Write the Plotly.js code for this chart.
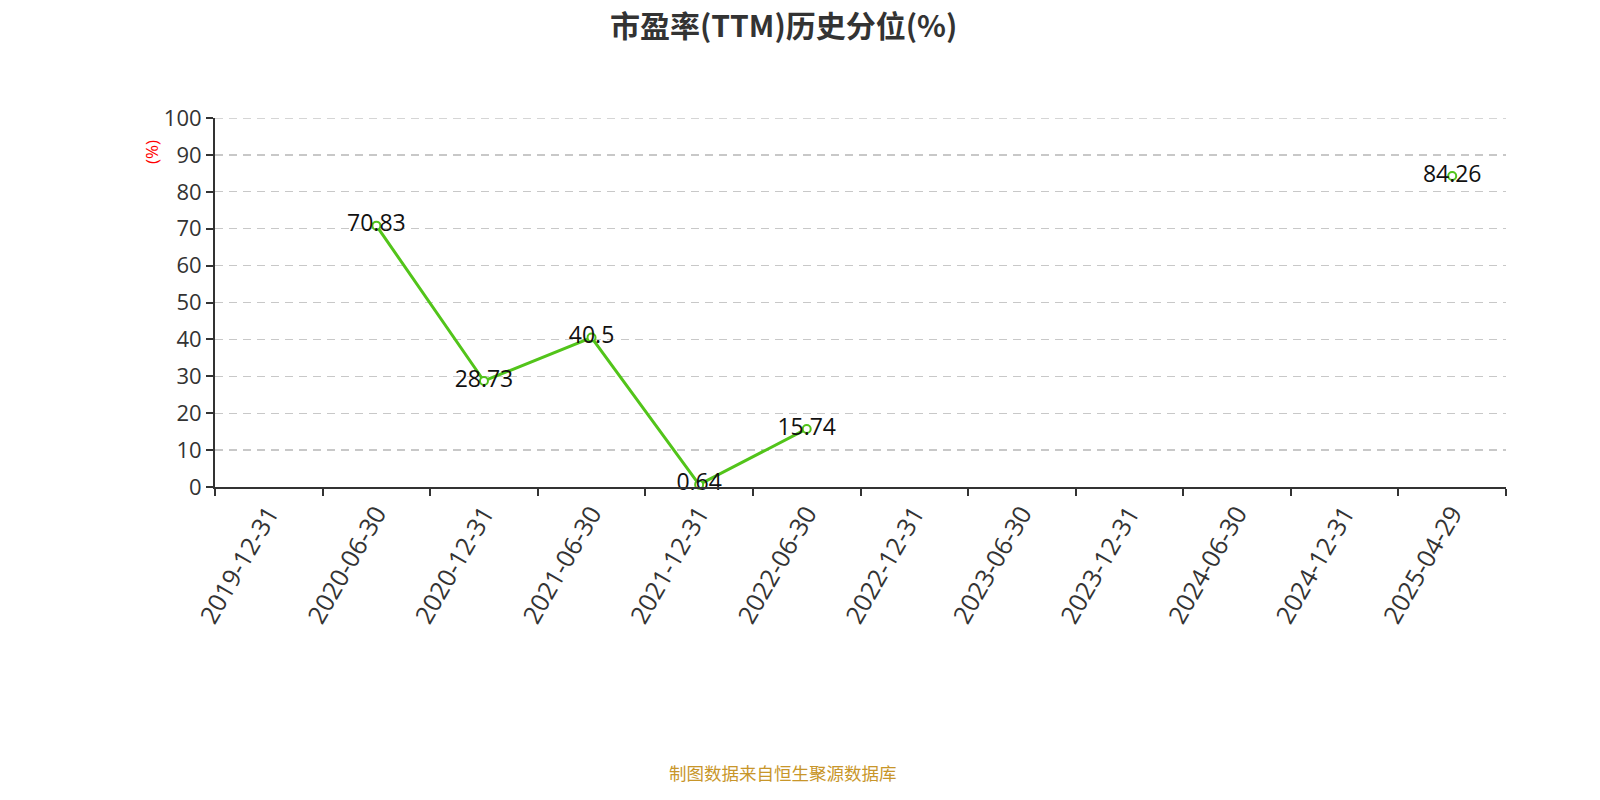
<!DOCTYPE html>
<html>
<head>
<meta charset="utf-8">
<script src="https://cdn.plot.ly/plotly-3.0.1.min.js"></script>
<style>html,body{margin:0;padding:0;background:#fff;}#chart{width:1600px;height:800px;}</style>
</head>
<body>
<div id="chart"></div>
<script>
const categories = ["2019-12-31","2020-06-30","2020-12-31","2021-06-30","2021-12-31","2022-06-30","2022-12-31","2023-06-30","2023-12-31","2024-06-30","2024-12-31","2025-04-29"];
const values = [null, 70.83, 28.73, 40.5, 0.64, 15.74, null, null, null, null, null, 84.26];
const labels = values.map(v => v === null ? "" : String(v));
const yTicks = [0,10,20,30,40,50,60,70,80,90,100];
const titleText = "市盈率(TTM)历史分位(%)";

const font = "'Open Sans', 'Noto Sans CJK SC', sans-serif";
const cjk = "'Noto Sans CJK SC', 'Open Sans', sans-serif";

const trace = {
  type: "scatter",
  mode: "lines+markers+text",
  x: categories,
  y: values,
  text: labels,
  textposition: "middle center",
  textfont: {family: font, size: 23, color: "#111"},
  connectgaps: false,
  line: {color: "#52c41a", width: 3},
  marker: {symbol: "circle", size: 8, color: "#ffffff", line: {color: "#52c41a", width: 2}},
  cliponaxis: false,
  hoverinfo: "x+y"
};

const layout = {
  width: 1600, height: 800,
  margin: {l: 215, r: 94, t: 118, b: 313},
  paper_bgcolor: "#fff", plot_bgcolor: "#fff",
  showlegend: false,
  xaxis: {
    type: "category",
    categoryorder: "array", categoryarray: categories,
    range: [-0.5, categories.length - 0.5],
    tickson: "boundaries",
    ticks: "outside", ticklen: 7, tickwidth: 2, tickcolor: "#333",
    showline: true, linecolor: "#333", linewidth: 2,
    showgrid: false, zeroline: false,
    tickangle: -60,
    tickfont: {family: font, size: 25, color: "#333"},
    fixedrange: true
  },
  yaxis: {
    range: [0, 100],
    tickvals: yTicks,
    ticktext: yTicks.map(String),
    ticks: "outside", ticklen: 7, tickwidth: 2, tickcolor: "#333",
    showline: true, linecolor: "#333", linewidth: 2,
    showgrid: true, gridcolor: "#c8c8c8", griddash: "8px,6px", gridwidth: 1.3,
    zeroline: false,
    tickfont: {family: font, size: 22, color: "#333"},
    fixedrange: true
  },
  shapes: [
    {
      type: "line", xref: "paper", yref: "y",
      x0: 0, x1: 1, y0: yTicks[yTicks.length - 1], y1: yTicks[yTicks.length - 1],
      line: {color: "#c8c8c8", width: 1.3, dash: "8px,6px"},
      layer: "below"
    }
  ],
  annotations: [
    {
      text: "<b>" + titleText + "</b>", xref: "paper", yref: "paper",
      x: 0.44, y: 1.2547, xanchor: "center", yanchor: "middle",
      showarrow: false,
      font: {family: cjk, size: 30, color: "#333"}
    },
    {
      text: "(%)", xref: "paper", yref: "paper",
      x: -0.0488, y: 0.908, xanchor: "center", yanchor: "middle",
      textangle: -90, showarrow: false,
      font: {family: font, size: 17, color: "#ff0000"}
    },
    {
      text: "制图数据来自恒生聚源数据库", xref: "paper", yref: "paper",
      x: 0.44, y: -0.775, xanchor: "center", yanchor: "middle",
      showarrow: false,
      font: {family: cjk, size: 17.5, color: "#c8962a"}
    }
  ]
};

Plotly.newPlot("chart", [trace], layout, {displayModeBar: false, staticPlot: true});
</script>
</body>
</html>
